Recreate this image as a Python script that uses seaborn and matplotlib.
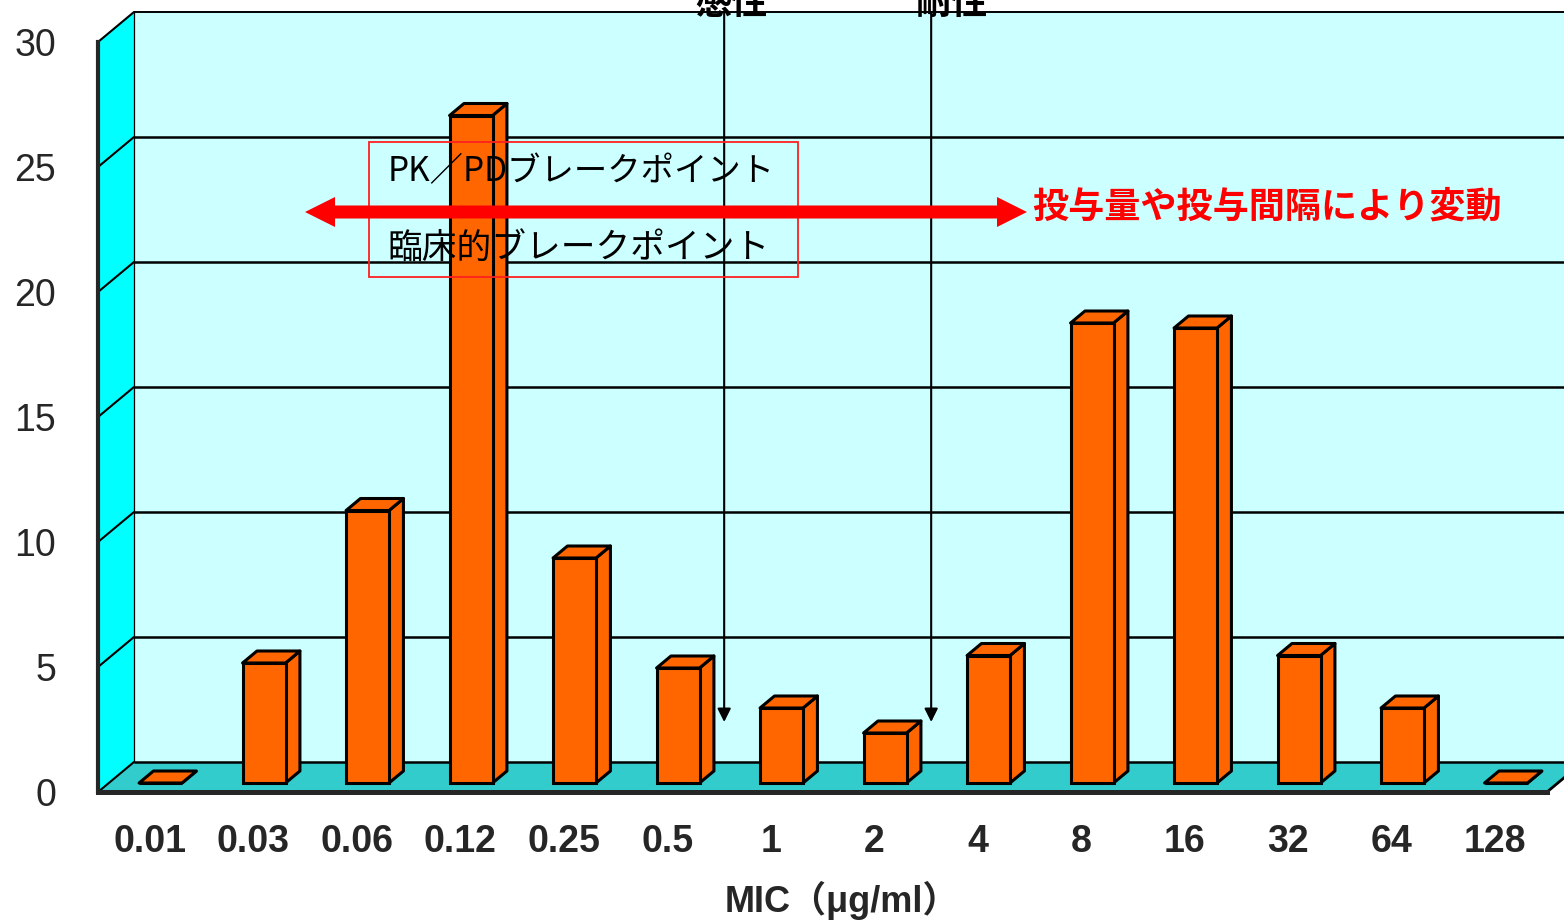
import numpy as np
import pandas as pd
import matplotlib
matplotlib.use("Agg")
import matplotlib.pyplot as plt
from matplotlib.patches import Polygon, Rectangle, FancyArrowPatch, ArrowStyle
import seaborn as sns

# MIC distribution (% of strains) per MIC class
mic_labels = ["0.01", "0.03", "0.06", "0.12", "0.25", "0.5", "1", "2",
              "4", "8", "16", "32", "64", "128"]
strain_pct = [0, 4.8, 10.9, 26.7, 9.0, 4.6, 3.0, 2.0, 5.1, 18.4, 18.2, 5.1, 3.0, 0]
y_ticks = [0, 5, 10, 15, 20, 25, 30]

df = pd.DataFrame({"mic": mic_labels, "pct": strain_pct})

sns.set_style("white")
plt.rcParams["font.family"] = ["Liberation Sans", "Noto Sans CJK JP", "DejaVu Sans"]
CJK = ["Noto Sans CJK JP", "DejaVu Sans"]

W, H, DPI = 1564, 923, 100
fig = plt.figure(figsize=(W / DPI, H / DPI), dpi=DPI)
fig.patch.set_facecolor("white")

# front plane of the 3-D box (pixels)
X0, X1 = 98, 1547
Y0, Y30 = 792, 42
ax = fig.add_axes([X0 / W, (H - Y0) / H, (X1 - X0) / W, (Y0 - Y30) / H])
ax.patch.set_visible(False)

n = len(mic_labels)
px_x = (X1 - X0) / n
px_y = (Y0 - Y30) / 30
DX, DY = 36 / px_x, 30 / px_y          # full box depth in data units
xl, xr = -0.5, n - 0.5
ytop = y_ticks[-1]

# walls and floor
ax.add_patch(Polygon([(xl + DX, DY), (xr + DX, DY), (xr + DX, ytop + DY), (xl + DX, ytop + DY)],
                     closed=True, facecolor="#CCFFFF", edgecolor="none", zorder=0, clip_on=False))
ax.add_patch(Polygon([(xl, 0), (xl + DX, DY), (xl + DX, ytop + DY), (xl, ytop)],
                     closed=True, facecolor="#00FFFF", edgecolor="none", zorder=0, clip_on=False))
ax.add_patch(Polygon([(xl, 0), (xr, 0), (xr + DX, DY), (xl + DX, DY)],
                     closed=True, facecolor="#33CCCC", edgecolor="none", zorder=0.5, clip_on=False))

# gridlines on back wall and side wall
for k in y_ticks:
    lw = 1.4 if k == ytop else 1.8
    ax.plot([xl + DX, xr + DX], [k + DY, k + DY], color="black", lw=lw, zorder=1, clip_on=False,
            solid_capstyle="butt")
    ax.plot([xl, xl + DX], [k, k + DY], color="black", lw=1.5, zorder=1, clip_on=False)
ax.plot([xl + DX, xl + DX], [DY, ytop + DY], color="black", lw=0.9, zorder=1, clip_on=False)
ax.plot([xr, xr + DX], [0, DY], color="black", lw=2, zorder=1, clip_on=False)

# bars: front faces from seaborn, then depth faces
sns.barplot(data=df, x="mic", y="pct", order=mic_labels, color="#FF6600", saturation=1,
            width=0.415, edgecolor="black", linewidth=2.2, ax=ax)
f_front, f_depth = 0.3, 0.4
ox, oy = f_front * DX, f_front * DY
bx, by = f_depth * DX, f_depth * DY
bars = [p for p in ax.patches if isinstance(p, Rectangle)]
for p in bars:
    x0 = p.get_x() + ox
    w = p.get_width()
    h = p.get_height()
    p.set_x(x0)
    p.set_y(oy)
    p.set_zorder(5)
    p.set_clip_on(False)
    top = oy + h
    side = Polygon([(x0 + w, oy), (x0 + w + bx, oy + by), (x0 + w + bx, top + by), (x0 + w, top)],
                   closed=True, facecolor="#FF6600", edgecolor="black", lw=2.2, zorder=4,
                   clip_on=False, joinstyle="round")
    cap = Polygon([(x0, top), (x0 + w, top), (x0 + w + bx, top + by), (x0 + bx, top + by)],
                  closed=True, facecolor="#FF6600", edgecolor="black", lw=2.2, zorder=4.5,
                  clip_on=False, joinstyle="round")
    ax.add_patch(side)
    ax.add_patch(cap)

ax.set_xlim(xl, xr)
ax.set_ylim(0, ytop)

# axes, ticks, labels
for s in ["top", "right"]:
    ax.spines[s].set_visible(False)
ax.spines["left"].set_linewidth(3)
ax.spines["bottom"].set_linewidth(3.6)
ax.spines["left"].set_zorder(6)
ax.spines["bottom"].set_zorder(6)

ax.set_yticks(y_ticks)
ax.set_yticklabels([str(v) for v in y_ticks])
ax.tick_params(axis="y", direction="in", length=7, width=1.6, pad=30, labelsize=27, color="black")
ax.set_xticks(range(n))
ax.set_xticklabels(mic_labels)
ax.set_xticks(np.arange(0.5, n - 1, 1), minor=True)
ax.tick_params(axis="x", which="major", length=0, pad=23, labelsize=27)
ax.tick_params(axis="x", which="minor", direction="in", length=7, width=2, color="black")
for t in ax.get_xticklabels():
    t.set_fontweight("bold")
ax.set_ylabel("")
ax.set_xlabel("MIC（μg/ml）", fontsize=26, fontweight="bold")
ax.xaxis.set_label_coords((842 - X0) / (X1 - X0), (Y0 - 900) / (Y0 - Y30))
ax.xaxis.label.set_va("center")

# breakpoint markers
for lab, xa, xt in [("感性", 5.55, 5.62), ("耐性", 7.55, 7.75)]:
    ax.annotate("", xy=(xa, 2.8), xytext=(xa, ytop + DY),
                arrowprops=dict(arrowstyle="-|>", color="black", lw=1.5, mutation_scale=20,
                                shrinkA=0, shrinkB=0), zorder=7, annotation_clip=False)
    ax.text(xt, 31.55, lab, family=CJK, fontsize=26, fontweight="bold", ha="center", va="center",
            color="black", zorder=8, clip_on=False)

# breakpoint box
ax.add_patch(Rectangle((2.118, 20.6), 6.263 - 2.118, 26.0 - 20.6, facecolor="none",
                       edgecolor="#FF2020", lw=1.3, zorder=7, clip_on=False))
ax.text(2.30, 24.8, "PK／PDブレークポイント", family=CJK, fontsize=24, ha="left", va="center",
        color="black", zorder=8)
ax.text(2.30, 21.75, "臨床的ブレークポイント", family=CJK, fontsize=25, ha="left", va="center",
        color="black", zorder=8)

# double-headed red arrow and note
ymid = 23.2
xa_l, xa_r = 1.5, 8.476
xc = (xa_l + xa_r) / 2
red_style = ArrowStyle("simple", head_length=0.6, head_width=0.6, tail_width=0.26)
for xe in (xa_l, xa_r):
    ax.add_patch(FancyArrowPatch((xc, ymid), (xe, ymid), arrowstyle=red_style, mutation_scale=36,
                                 color="#FF0000", lw=0, shrinkA=0, shrinkB=0, zorder=9, clip_on=False))
ax.text(8.53, 23.4, "投与量や投与間隔により変動", family=CJK, fontsize=26, fontweight="bold",
        color="#FF0000", ha="left", va="center", zorder=9)

fig.savefig("out.png", dpi=DPI, facecolor="white")
